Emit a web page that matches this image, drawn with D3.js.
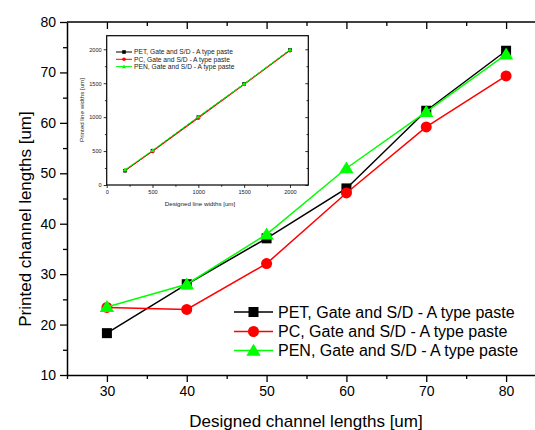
<!DOCTYPE html>
<html><head><meta charset="utf-8">
<script src="https://cdn.jsdelivr.net/npm/d3@7"></script>
<style>body{margin:0;background:#fff}svg{display:block;font-family:Arial,"Liberation Sans",sans-serif}</style>
</head><body><svg id="c" width="535" height="430"></svg>
<script>
// Main chart data
const designedMain = [30, 40, 50, 60, 70, 80];
const petMain = [18.3, 28.0, 37.1, 47.0, 62.4, 74.3];
const pcMain  = [23.4, 23.0, 32.1, 46.1, 59.2, 69.3];
const penMain = [23.5, 28.0, 37.9, 51.0, 62.2, 73.6];
const xTicksMain = [30, 40, 50, 60, 70, 80];
const yTicksMain = [10, 20, 30, 40, 50, 60, 70, 80];
// Inset data
const designedInset = [200, 500, 1000, 1500, 2000];
const petInset = [210, 505, 1000, 1490, 1990];
const pcInset  = [215, 495, 985, 1480, 1980];
const penInset = [225, 510, 1005, 1490, 1995];
const xTicksInset = [0, 500, 1000, 1500, 2000];
const yTicksInset = [0, 500, 1000, 1500, 2000];
const seriesNames = ["PET, Gate and S/D - A type paste", "PC, Gate and S/D - A type paste", "PEN, Gate and S/D - A type paste"];
const seriesColors = ["#000000", "#ff0000", "#00ff00"];
const seriesShapes = ["square", "circle", "triangle"];

const svg = d3.select("#c");

function marker(g, shape, x, y, s, color) {
  if (shape === "square") {
    g.append("rect").attr("x", x - s/2).attr("y", y - s/2).attr("width", s).attr("height", s).attr("fill", color);
  } else if (shape === "circle") {
    g.append("circle").attr("cx", x).attr("cy", y).attr("r", s/2).attr("fill", color);
  } else {
    const h = s * 0.95;
    g.append("path").attr("d", `M${x},${y - h*0.6}L${x + s*0.6},${y + h*0.45}L${x - s*0.6},${y + h*0.45}Z`).attr("fill", color);
  }
}

// ---------- Main plot ----------
const x = d3.scaleLinear().domain([25, 85]).range([67, 546]);
const y = d3.scaleLinear().domain([10, 80]).range([375, 22]);
const main = svg.append("g");

main.append("line").attr("x1", x(25)).attr("x2", 535).attr("y1", y(80)).attr("y2", y(80)).attr("stroke", "#000").attr("stroke-width", 1.5);
const xAxis = d3.axisBottom(x).tickValues(xTicksMain).tickSize(7).tickSizeOuter(0).tickPadding(4).tickFormat(d3.format("d"));
const gx = main.append("g").attr("transform", `translate(0,${y(10)})`).call(xAxis);
gx.select(".domain").attr("stroke-width", 1.5);
gx.selectAll(".tick line").attr("stroke-width", 1.3);
gx.selectAll("text").attr("font-size", 14).attr("font-family", "Arial, Liberation Sans, sans-serif").attr("fill", "#000");
const xMinor = d3.axisBottom(x).tickValues(d3.range(35, 85, 10).concat([25])).tickSize(4).tickSizeOuter(0).tickFormat("");
const gxm = main.append("g").attr("transform", `translate(0,${y(10)})`).call(xMinor);
gxm.select(".domain").remove();
gxm.selectAll(".tick line").attr("stroke-width", 1.3);
const xTop = d3.axisBottom(x).tickValues(xTicksMain).tickSize(7).tickSizeOuter(0).tickFormat("");
const gt = main.append("g").attr("transform", `translate(0,${y(80)})`).call(xTop);
gt.select(".domain").remove(); gt.selectAll(".tick line").attr("stroke-width", 1.3);
const xTopMinor = d3.axisBottom(x).tickValues(d3.range(35, 85, 10)).tickSize(4).tickSizeOuter(0).tickFormat("");
const gtm = main.append("g").attr("transform", `translate(0,${y(80)})`).call(xTopMinor);
gtm.select(".domain").remove(); gtm.selectAll(".tick line").attr("stroke-width", 1.3);
const yAxis = d3.axisLeft(y).tickValues(yTicksMain).tickSize(7).tickSizeOuter(0).tickPadding(4).tickFormat(d3.format("d"));
const gy = main.append("g").attr("transform", `translate(${x(25)},0)`).call(yAxis);
gy.select(".domain").attr("stroke-width", 1.5);
gy.selectAll(".tick line").attr("stroke-width", 1.3);
gy.selectAll("text").attr("font-size", 14).attr("font-family", "Arial, Liberation Sans, sans-serif").attr("fill", "#000");
const yMinor = d3.axisLeft(y).tickValues(d3.range(15, 80, 10)).tickSize(4).tickSizeOuter(0).tickFormat("");
const gym = main.append("g").attr("transform", `translate(${x(25)},0)`).call(yMinor);
gym.select(".domain").remove(); gym.selectAll(".tick line").attr("stroke-width", 1.3);

main.append("text").attr("x", 306).attr("y", 427).attr("text-anchor", "middle").attr("font-size", 17).text("Designed channel lengths [um]");
main.append("text").attr("transform", "translate(31,219) rotate(-90)").attr("text-anchor", "middle").attr("font-size", 17).text("Printed channel lengths [um]");

const mainSeries = [petMain, pcMain, penMain];
const line = d3.line().x((d, i) => x(designedMain[i])).y(d => y(d));
mainSeries.forEach((vals, k) => {
  const g = main.append("g");
  g.append("path").attr("d", line(vals)).attr("fill", "none").attr("stroke", seriesColors[k]).attr("stroke-width", 1.5);
  const sz = [10, 11, 12][k];
  vals.forEach((v, i) => marker(g, seriesShapes[k], x(designedMain[i]), y(v), sz, seriesColors[k]));
});

const legRows = [312, 331.5, 350.5];
seriesNames.forEach((nm, k) => {
  const g = main.append("g");
  g.append("line").attr("x1", 234).attr("x2", 273).attr("y1", legRows[k]).attr("y2", legRows[k]).attr("stroke", seriesColors[k]).attr("stroke-width", 1.5);
  marker(g, seriesShapes[k], 253.5, legRows[k], [10, 11, 12][k], seriesColors[k]);
  g.append("text").attr("x", 278).attr("y", legRows[k] + 5.5).attr("font-size", 16).text(nm);
});

// ---------- Inset ----------
const ix = d3.scaleLinear().domain([0, 2200]).range([106.7, 308.3]);
const iy = d3.scaleLinear().domain([0, 2200]).range([185, 35.7]);
const ins = svg.append("g");
ins.append("rect").attr("x", ix(0)).attr("y", iy(2200)).attr("width", ix(2200) - ix(0)).attr("height", iy(0) - iy(2200))
  .attr("fill", "#fff").attr("stroke", "#000").attr("stroke-width", 1.2);
const ixAxis = d3.axisBottom(ix).tickValues(xTicksInset).tickSize(3).tickSizeOuter(0).tickPadding(2).tickFormat(d3.format("d"));
const gix = ins.append("g").attr("transform", `translate(0,${iy(0)})`).call(ixAxis);
gix.select(".domain").remove();
gix.selectAll("text").attr("font-size", 5.6).attr("fill", "#222");
const ixMinor = d3.axisBottom(ix).tickValues(d3.range(250, 2200, 500)).tickSize(1.8).tickSizeOuter(0).tickFormat("");
const gixm = ins.append("g").attr("transform", `translate(0,${iy(0)})`).call(ixMinor);
gixm.select(".domain").remove();
const iyAxis = d3.axisLeft(iy).tickValues(yTicksInset).tickSize(3).tickSizeOuter(0).tickPadding(2).tickFormat(d3.format("d"));
const giy = ins.append("g").attr("transform", `translate(${ix(0)},0)`).call(iyAxis);
giy.select(".domain").remove();
giy.selectAll("text").attr("font-size", 5.6).attr("fill", "#222");
const iyMinor = d3.axisLeft(iy).tickValues(d3.range(250, 2200, 500)).tickSize(1.8).tickSizeOuter(0).tickFormat("");
const giym = ins.append("g").attr("transform", `translate(${ix(0)},0)`).call(iyMinor);
giym.select(".domain").remove();
const iyRight = d3.axisLeft(iy).tickValues(yTicksInset).tickSize(3).tickSizeOuter(0).tickFormat("");
const gir = ins.append("g").attr("transform", `translate(${ix(2200)},0)`).call(iyRight);
gir.select(".domain").remove();
const iyRightMinor = d3.axisLeft(iy).tickValues(d3.range(250, 2200, 500)).tickSize(1.8).tickSizeOuter(0).tickFormat("");
const girm = ins.append("g").attr("transform", `translate(${ix(2200)},0)`).call(iyRightMinor);
girm.select(".domain").remove();
ins.selectAll(".tick line").attr("stroke-width", 0.8);

ins.append("text").attr("x", 200).attr("y", 206).attr("text-anchor", "middle").attr("font-size", 6.2).attr("fill", "#222").text("Designed line widths [um]");
ins.append("text").attr("transform", "translate(84,110) rotate(-90)").attr("text-anchor", "middle").attr("font-size", 6.2).attr("fill", "#222").text("Printed line widths [um]");

const insetSeries = [petInset, pcInset, penInset];
const iline = d3.line().x((d, i) => ix(designedInset[i])).y(d => iy(d));
insetSeries.forEach((vals, k) => {
  const g = ins.append("g");
  g.append("path").attr("d", iline(vals)).attr("fill", "none").attr("stroke", seriesColors[k]).attr("stroke-width", 1);
  vals.forEach((v, i) => marker(g, seriesShapes[k], ix(designedInset[i]), iy(v), 3.6, seriesColors[k]));
});
const iLegRows = [52, 59.3, 66.6];
seriesNames.forEach((nm, k) => {
  const g = ins.append("g");
  g.append("line").attr("x1", 116).attr("x2", 132).attr("y1", iLegRows[k]).attr("y2", iLegRows[k]).attr("stroke", seriesColors[k]).attr("stroke-width", 1);
  marker(g, seriesShapes[k], 124, iLegRows[k], 3.6, seriesColors[k]);
  g.append("text").attr("x", 134).attr("y", iLegRows[k] + 2.3).attr("font-size", 6.7).attr("fill", "#222").text(nm);
});
</script></body></html>
